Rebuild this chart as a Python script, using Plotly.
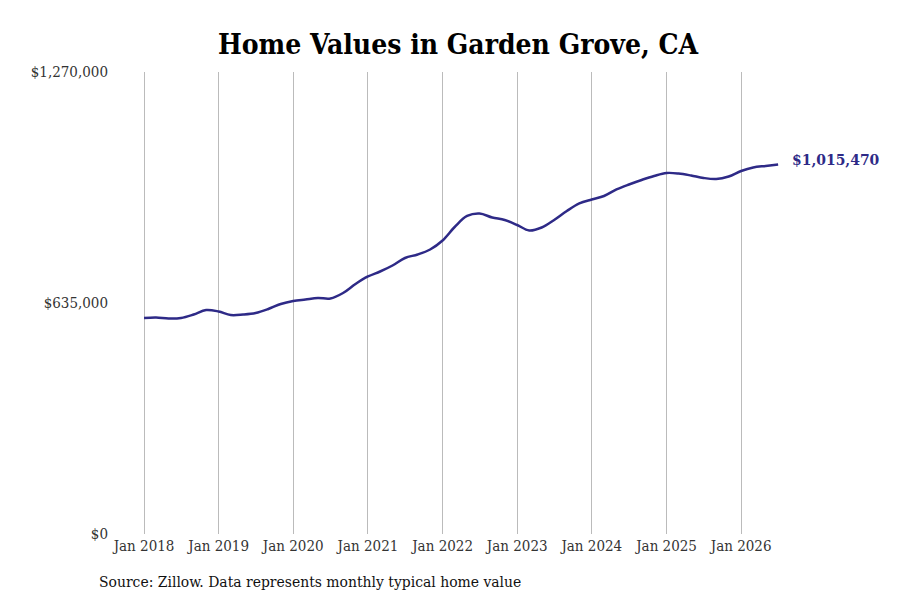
import pandas as pd
import plotly.graph_objects as go

# typical home value, every two months
dates = pd.date_range("2018-01-01", "2026-07-01", freq="2MS")
values = [593800, 595200, 592400, 593800, 603400, 615800,
          611700, 602000, 603400, 607500, 618500, 632300,
          640500, 644700, 648800, 647400, 662500, 687300,
          707900, 721600, 738100, 758700, 768400, 782100,
          806800, 843900, 874200, 881000, 870000, 863200,
          849400, 834300, 842500, 863200, 887900, 908600,
          919600, 929200, 947100, 960800, 973200, 984100,
          992400, 991000, 985500, 978700, 975900, 982800,
          997900, 1007600, 1011700, 1015470]
last_label = "$1,015,470"
y_ticks = [0, 635000, 1270000]

serif = "DejaVu Serif Condensed, DejaVu Serif, serif"
navy = "#2e2a87"

# page has an 8px body margin, so the margins below are 8px smaller
L, T, R, B = 107, 64, 108, 74
plot_w = 900 - L - R
plot_h = 600 - T - B

fig = go.Figure()
fig.add_trace(go.Scatter(x=dates, y=values, mode="lines",
                         line=dict(color=navy, width=2.5, shape="spline"),
                         hoverinfo="skip"))

fig.add_annotation(x=dates[-1], y=values[-1], text="<b>" + last_label + "</b>",
                   showarrow=False, xanchor="left", xshift=12, yshift=5,
                   font=dict(family=serif, size=15.5, color=navy))
fig.add_annotation(x=(89 - L) / plot_w, y=(600 - B - 574) / plot_h, xref="paper", yref="paper",
                   text="Source: Zillow. Data represents monthly typical home value",
                   showarrow=False, xanchor="left", yanchor="middle",
                   font=dict(family=serif, size=15.5, color="#111"))

fig.update_layout(
    width=900, height=600,
    margin=dict(l=L, r=R, t=T, b=B),
    plot_bgcolor="white", paper_bgcolor="white",
    showlegend=False,
    font=dict(family=serif, size=15, color="#333"),
    title=dict(text="<b>Home Values in Garden Grove, CA</b>", x=0.5, xanchor="center",
               y=1 - 36 / 600, yanchor="middle",
               font=dict(family=serif, size=28, color="black")),
)
fig.update_xaxes(range=["2017-08-12", "2026-10-16"], tickformat="%b %Y",
                 dtick="M12", tick0="2018-01-01", showgrid=True,
                 gridcolor="#bbbbbb", gridwidth=1, showline=False, zeroline=False,
                 ticks="", ticklabelstandoff=1)
fig.update_yaxes(range=[0, 1270000], tickvals=y_ticks, tickformat="$,.0f",
                 showgrid=False, zeroline=False, showline=False, ticks="",
                 ticklabelstandoff=6)

fig.write_html("out.html")
